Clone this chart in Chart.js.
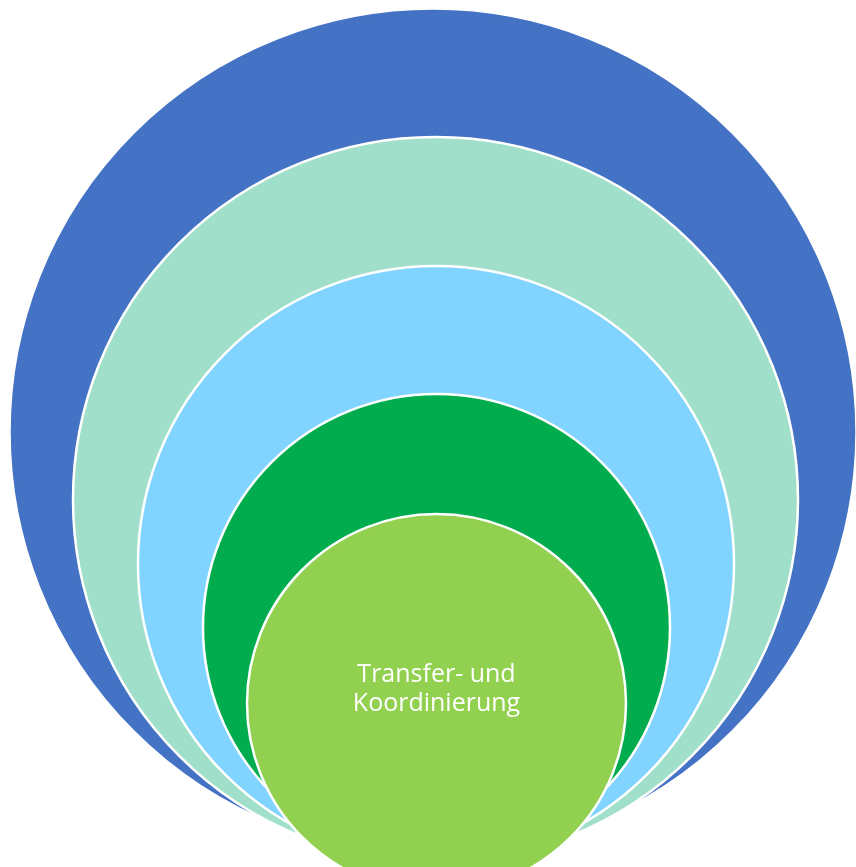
<!DOCTYPE html>
<html>
<head>
<meta charset="utf-8">
<script src="https://cdn.jsdelivr.net/npm/chart.js@4.4.1/dist/chart.umd.min.js"></script>
<style>
  html, body { margin: 0; padding: 0; background: #fff; }
  #wrap { width: 856px; height: 867px; }
</style>
</head>
<body>
<div id="wrap"><canvas id="rings"></canvas></div>
<script>
// nested circles, largest first (values in px of the 856x867 picture)
const rings = ['Ebene 1', 'Ebene 2', 'Ebene 3', 'Ebene 4', 'Transfer- und Koordinierung'];
const centerX = [433, 435.5, 436, 436.5, 436.5];
const centerY = [432, 499.5, 564, 627.5, 703.5];
const radius = [422, 363.5, 299, 234.5, 190.5];
const centerText = ['Transfer- und', 'Koordinierung'];

const fills = ['#4472C4', '#A0E0CB', '#80D4FF', '#00AC4E', '#92D050'];
const strokes = ['#4472C4', '#ffffff', '#ffffff', '#ffffff', '#ffffff'];

const points = rings.map((name, i) => ({ x: centerX[i], y: centerY[i], r: radius[i] - 1 }));

// write the label into the innermost circle
const centerLabel = {
    id: 'centerLabel',
    afterDatasetsDraw(chart) {
        const { ctx, scales } = chart;
        const last = points.length - 1;
        const x = scales.x.getPixelForValue(points[last].x);
        const y = scales.y.getPixelForValue(points[last].y);
        ctx.save();
        ctx.fillStyle = '#ffffff';
        ctx.font = '25px "Open Sans"';
        ctx.textAlign = 'center';
        ctx.textBaseline = 'middle';
        const lh = 29;
        centerText.forEach((t, i) => {
            ctx.fillText(t, x, y - 14 + (i - (centerText.length - 1) / 2) * lh);
        });
        ctx.restore();
    }
};

new Chart(document.getElementById('rings'), {
    type: 'bubble',
    data: {
        labels: rings,
        datasets: [{
            data: points,
            backgroundColor: fills,
            borderColor: strokes,
            borderWidth: 2.5,
            hoverBorderWidth: 2.5,
            clip: false
        }]
    },
    options: {
        responsive: true,
        maintainAspectRatio: false,
        animation: false,
        events: [],
        layout: { padding: 0, autoPadding: false },
        plugins: { legend: { display: false }, tooltip: { enabled: false } },
        scales: {
            x: { type: 'linear', display: false, min: 0, max: 856 },
            y: { type: 'linear', display: false, min: 0, max: 867, reverse: true }
        }
    },
    plugins: [centerLabel]
});
</script>
</body>
</html>
